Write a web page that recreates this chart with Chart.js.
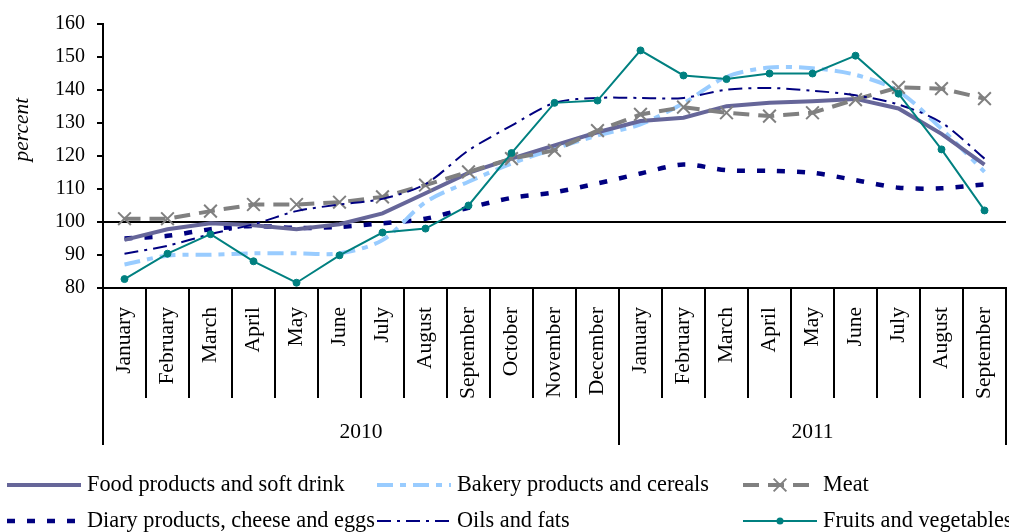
<!DOCTYPE html>
<html>
<head>
<meta charset="utf-8">
<script src="https://cdn.jsdelivr.net/npm/chart.js@4/dist/chart.umd.min.js"></script>
<style>
  html, body { margin: 0; padding: 0; background: #fff; }
  #wrap { width: 1009px; height: 532px; }
</style>
</head>
<body>
<div id="wrap"><canvas id="priceChart" width="1009" height="532"></canvas></div>
<script>
// Monthly price indices, 2010 = base
const months = [
  'January', 'February', 'March', 'April', 'May', 'June', 'July', 'August',
  'September', 'October', 'November', 'December',
  'January', 'February', 'March', 'April', 'May', 'June', 'July', 'August', 'September'
];
const years = ['2010', '2011'];
const monthsInYear = [12, 9];

const food = [94.6, 97.8, 99.6, 99.0, 97.8, 99.3, 102.6, 108.7, 114.9, 119.2, 123.2, 127.2,
  130.6, 131.6, 135.1, 136.1, 136.6, 137.3, 134.4, 126.7, 117.4];
const bakery = [87.1, 89.8, 90.1, 90.5, 90.5, 90.5, 94.5, 106.0, 112.2, 117.7, 122.2, 126.2,
  129.6, 136.0, 144.0, 146.8, 146.6, 144.6, 139.6, 128.2, 115.2];
const meat = [101.0, 101.0, 103.3, 105.3, 105.3, 106.0, 107.6, 111.2, 115.2, 119.2, 121.7, 127.7,
  132.6, 134.8, 133.1, 132.1, 133.1, 137.1, 140.8, 140.4, 137.4];
const dairy = [95.0, 95.8, 97.8, 98.8, 98.2, 98.5, 99.6, 101.0, 104.3, 107.3, 109.0, 111.7,
  114.7, 117.4, 115.7, 115.5, 114.9, 112.7, 110.4, 110.2, 111.4];
const oils = [90.4, 92.8, 96.3, 99.3, 103.3, 105.3, 107.0, 111.5, 121.7, 129.2, 136.1, 137.6,
  137.6, 137.6, 140.1, 140.6, 139.8, 138.4, 135.6, 130.1, 119.2];
const fruits = [82.7, 90.4, 96.3, 88.1, 81.6, 89.9, 96.8, 98.0, 105.0, 120.9, 136.1, 136.8,
  152.0, 144.4, 143.3, 145.0, 145.0, 150.4, 138.9, 122.0, 103.5];

const yMin = 80;
const yMax = 160;
const yStep = 10;
const baseLine = 100;

const FONT = "'Liberation Serif', 'Times New Roman', serif";

const datasets = [
  { label: 'Food products and soft drink', data: food, borderColor: '#666699', borderWidth: 4,
    pointRadius: 0, tension: 0, order: 3 },
  { label: 'Bakery products and cereals', data: bakery, borderColor: '#99CCFF', borderWidth: 4,
    borderDash: [16, 7, 6, 7], pointRadius: 0, tension: 0.3, order: 4 },
  { label: 'Meat', data: meat, borderColor: '#808080', borderWidth: 4, borderDash: [16, 9],
    pointStyle: 'crossRot', pointRadius: 9, pointBorderWidth: 2, pointBorderColor: '#808080',
    pointBackgroundColor: '#808080', tension: 0, order: 2 },
  { label: 'Diary products, cheese and eggs', data: dairy, borderColor: '#000080', borderWidth: 4.5,
    borderDash: [8, 12], pointRadius: 0, tension: 0.3, order: 5 },
  { label: 'Oils and fats', data: oils, borderColor: '#000080', borderWidth: 2,
    borderDash: [14, 6, 3, 6], pointRadius: 0, tension: 0.3, order: 1 },
  { label: 'Fruits and vegetables', data: fruits, borderColor: '#008080', borderWidth: 2,
    pointStyle: 'circle', pointRadius: 3.5, pointBorderWidth: 1, pointBorderColor: '#008080',
    pointBackgroundColor: '#008080', tension: 0, order: 0 }
];

function line(ctx, x1, y1, x2, y2) {
  ctx.beginPath();
  ctx.moveTo(x1, y1);
  ctx.lineTo(x2, y2);
  ctx.stroke();
}

// reference line at 100 sits under the series
const baseLinePlugin = {
  id: 'baseLine',
  beforeDatasetsDraw(chart) {
    const { ctx, chartArea, scales: { y } } = chart;
    const py = y.getPixelForValue(baseLine);
    ctx.save();
    ctx.strokeStyle = '#000';
    ctx.lineWidth = 2;
    line(ctx, chartArea.left, py, chartArea.right, py);
    ctx.restore();
  }
};

// month labels and dividers, year groups, axis title and legend
const decorPlugin = {
  id: 'decor',
  afterDraw(chart) {
    const { ctx, chartArea, scales: { x, y } } = chart;
    const half = (x.getPixelForValue(1) - x.getPixelForValue(0)) / 2;
    const base = chartArea.bottom;
    const monthEnd = base + 110;
    const yearEnd = base + 157;

    ctx.save();
    ctx.strokeStyle = '#000';
    ctx.fillStyle = '#000';
    ctx.lineWidth = 2;

    const yearEdges = [0];
    monthsInYear.forEach((n, i) => yearEdges.push(yearEdges[i] + n));

    for (let i = 1; i < months.length; i++) {
      const px = x.getPixelForValue(i) - half;
      line(ctx, px, base, px, yearEdges.includes(i) ? yearEnd : monthEnd);
    }
    line(ctx, chartArea.left, base, chartArea.left, yearEnd);
    line(ctx, chartArea.right, base, chartArea.right, yearEnd);

    // month names read bottom to top, hanging from the axis
    ctx.font = '21.5px ' + FONT;
    ctx.textAlign = 'right';
    ctx.textBaseline = 'middle';
    months.forEach((m, i) => {
      ctx.save();
      ctx.translate(x.getPixelForValue(i), base + 19);
      ctx.rotate(-Math.PI / 2);
      ctx.fillText(m, 0, 0);
      ctx.restore();
    });

    ctx.textAlign = 'center';
    years.forEach((yr, i) => {
      const left = x.getPixelForValue(yearEdges[i]) - half;
      const right = x.getPixelForValue(yearEdges[i + 1] - 1) + half;
      ctx.fillText(yr, (left + right) / 2, base + 144);
    });

    // axis title
    ctx.save();
    ctx.translate(22, y.getPixelForValue(128));
    ctx.rotate(-Math.PI / 2);
    ctx.font = 'italic 21.5px ' + FONT;
    ctx.fillText('percent', 0, 0);
    ctx.restore();

    // legend, three columns by two rows
    const colX = [7, 377, 743];
    const rowY = [485, 521];
    const sampleLen = 74;
    ctx.textAlign = 'left';
    ctx.font = '22.3px ' + FONT;
    chart.data.datasets.forEach((ds, i) => {
      const sx = colX[i % 3];
      const sy = rowY[Math.floor(i / 3)];
      ctx.save();
      ctx.strokeStyle = ds.borderColor;
      ctx.lineWidth = ds.borderWidth;
      ctx.setLineDash(ds.borderDash || []);
      line(ctx, sx, sy, sx + sampleLen, sy);
      ctx.setLineDash([]);
      const cx = sx + sampleLen / 2;
      if (ds.pointStyle === 'crossRot') {
        const o = ds.pointRadius * Math.SQRT1_2;
        ctx.lineWidth = ds.pointBorderWidth;
        ctx.strokeStyle = ds.pointBorderColor;
        line(ctx, cx - o, sy - o, cx + o, sy + o);
        line(ctx, cx - o, sy + o, cx + o, sy - o);
      } else if (ds.pointStyle === 'circle') {
        ctx.fillStyle = ds.pointBackgroundColor;
        ctx.beginPath();
        ctx.arc(cx, sy, ds.pointRadius, 0, Math.PI * 2);
        ctx.fill();
      }
      ctx.restore();
      ctx.fillText(ds.label, sx + sampleLen + 6, sy);
    });
    ctx.restore();
  }
};

new Chart(document.getElementById('priceChart'), {
  type: 'line',
  data: { labels: months, datasets: datasets },
  options: {
    responsive: false,
    animation: false,
    devicePixelRatio: 1,
    layout: { autoPadding: false, padding: { top: 20, right: 3, left: 0, bottom: 0 } },
    plugins: { legend: { display: false }, tooltip: { enabled: false } },
    scales: {
      x: {
        offset: true,
        grid: { display: false },
        border: { display: true, color: '#000', width: 2 },
        ticks: { display: false },
        afterFit(scale) { scale.height = 244; }
      },
      y: {
        min: yMin,
        max: yMax,
        grid: { drawOnChartArea: false, drawTicks: true, tickLength: 6, color: '#000', lineWidth: 2 },
        border: { display: true, color: '#000', width: 2 },
        ticks: { stepSize: yStep, padding: 12, color: '#000', font: { family: FONT, size: 20 } },
        afterFit(scale) { scale.width = 103; }
      }
    }
  },
  plugins: [baseLinePlugin, decorPlugin]
});
</script>
</body>
</html>
